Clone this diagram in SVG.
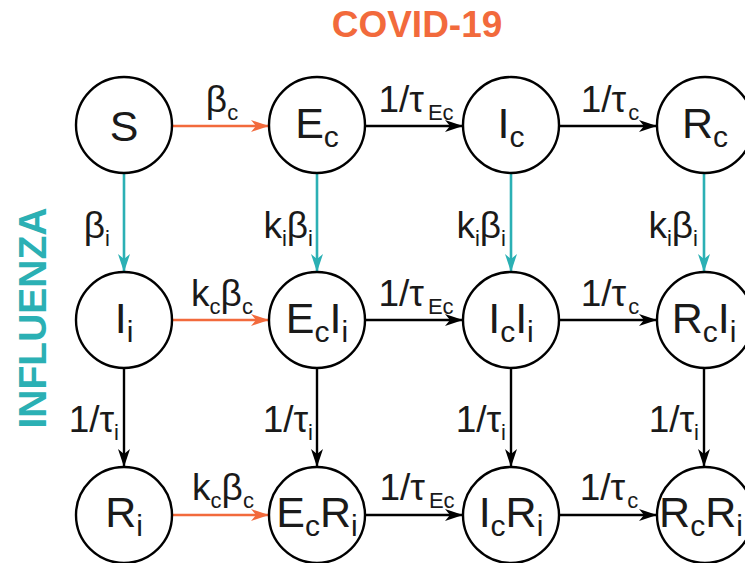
<svg xmlns="http://www.w3.org/2000/svg" width="745" height="563" viewBox="0 0 745 563">
<style>
.node circle{fill:#fff;stroke:#000;stroke-width:2.4}
.nl{font-family:"Liberation Sans",Arial,Helvetica,sans-serif;font-size:43px;text-anchor:middle;fill:#1a1a1a}
.ns{font-size:30px}
.el{font-family:"Liberation Sans",Arial,Helvetica,sans-serif;font-size:37px;fill:#1a1a1a}
.es{font-size:22px}
.m{text-anchor:middle}
.e{text-anchor:end}
.k{stroke:#000;stroke-width:2.4;fill:none;marker-end:url(#ak)}
.o{stroke:#f26a3c;stroke-width:2.6;fill:none;marker-end:url(#ao)}
.t{stroke:#2bb0b4;stroke-width:2.6;fill:none;marker-end:url(#at)}
.title{font-family:"Liberation Sans",Arial,Helvetica,sans-serif;font-weight:bold;text-anchor:middle}
</style>
<defs>
<marker id="ak" markerUnits="userSpaceOnUse" markerWidth="20" markerHeight="14" refX="18" refY="7" orient="auto" viewBox="0 0 20 14"><path d="M0,1 L18,7 L0,13 L5,7 Z" fill="#000"/></marker>
<marker id="ao" markerUnits="userSpaceOnUse" markerWidth="20" markerHeight="14" refX="18" refY="7" orient="auto" viewBox="0 0 20 14"><path d="M0,1 L18,7 L0,13 L5,7 Z" fill="#f26a3c"/></marker>
<marker id="at" markerUnits="userSpaceOnUse" markerWidth="20" markerHeight="14" refX="18" refY="7" orient="auto" viewBox="0 0 20 14"><path d="M0,1 L18,7 L0,13 L5,7 Z" fill="#2bb0b4"/></marker>
</defs>
<rect width="745" height="563" fill="#fff"/>
<text class="title" x="417" y="37" font-size="37" fill="#f26a3c">COVID-19</text>
<text class="title" transform="translate(46,318) rotate(-90)" font-size="39" fill="#2bb0b4">INFLUENZA</text>

<g id="connectors">
<line class="o" x1="172" y1="126" x2="269" y2="126"/>
<line class="k" x1="365" y1="126" x2="463" y2="126"/>
<line class="k" x1="559" y1="126" x2="657" y2="126"/>
<line class="o" x1="172" y1="320" x2="269" y2="320"/>
<line class="k" x1="365" y1="320" x2="463" y2="320"/>
<line class="k" x1="559" y1="320" x2="657" y2="320"/>
<line class="o" x1="172" y1="515" x2="269" y2="515"/>
<line class="k" x1="365" y1="515" x2="463" y2="515"/>
<line class="k" x1="559" y1="515" x2="657" y2="515"/>
<line class="t" x1="124" y1="173" x2="124" y2="272"/>
<line class="t" x1="317" y1="173" x2="317" y2="272"/>
<line class="t" x1="511" y1="173" x2="511" y2="272"/>
<line class="t" x1="704" y1="173" x2="704" y2="272"/>
<line class="k" x1="124" y1="368" x2="124" y2="467"/>
<line class="k" x1="317" y1="368" x2="317" y2="467"/>
<line class="k" x1="511" y1="368" x2="511" y2="467"/>
<line class="k" x1="704" y1="368" x2="704" y2="467"/>
<text class="el m" x="222" y="112">β<tspan class="es" dy="8">c</tspan></text>
<text class="el m" x="416" y="112">1/τ<tspan class="es" dy="8" dx="4">Ec</tspan></text>
<text class="el m" x="610" y="112">1/τ<tspan class="es" dy="8" dx="2">c</tspan></text>
<text class="el m" x="222" y="306">k<tspan class="es" dy="8">c</tspan><tspan dy="-8">β</tspan><tspan class="es" dy="8">c</tspan></text>
<text class="el m" x="416" y="306">1/τ<tspan class="es" dy="8" dx="4">Ec</tspan></text>
<text class="el m" x="610" y="306">1/τ<tspan class="es" dy="8" dx="2">c</tspan></text>
<text class="el m" x="223" y="500">k<tspan class="es" dy="8">c</tspan><tspan dy="-8">β</tspan><tspan class="es" dy="8">c</tspan></text>
<text class="el m" x="417" y="500">1/τ<tspan class="es" dy="8" dx="4">Ec</tspan></text>
<text class="el m" x="609" y="500">1/τ<tspan class="es" dy="8" dx="2">c</tspan></text>
<text class="el e" x="110" y="238">β<tspan class="es" dy="8">i</tspan></text>
<text class="el e" x="313" y="238">k<tspan class="es" dy="8">i</tspan><tspan dy="-8">β</tspan><tspan class="es" dy="8">i</tspan></text>
<text class="el e" x="506" y="238">k<tspan class="es" dy="8">i</tspan><tspan dy="-8">β</tspan><tspan class="es" dy="8">i</tspan></text>
<text class="el e" x="698" y="238">k<tspan class="es" dy="8">i</tspan><tspan dy="-8">β</tspan><tspan class="es" dy="8">i</tspan></text>
<text class="el e" x="119" y="432">1/τ<tspan class="es" dy="8">i</tspan></text>
<text class="el e" x="313" y="432">1/τ<tspan class="es" dy="8">i</tspan></text>
<text class="el e" x="506" y="432">1/τ<tspan class="es" dy="8">i</tspan></text>
<text class="el e" x="699" y="432">1/τ<tspan class="es" dy="8">i</tspan></text>
</g>

<g id="S" class="node"><circle cx="124" cy="125" r="48"/><text class="nl" x="124" y="141">S</text></g>
<g id="Ec" class="node"><circle cx="317" cy="125" r="48"/><text class="nl" x="317" y="138">E<tspan class="ns" dy="9">c</tspan></text></g>
<g id="Ic" class="node"><circle cx="511" cy="125" r="48"/><text class="nl" x="511" y="138">I<tspan class="ns" dy="9">c</tspan></text></g>
<g id="Rc" class="node"><circle cx="705" cy="125" r="48"/><text class="nl" x="705" y="138">R<tspan class="ns" dy="9">c</tspan></text></g>

<g id="Ii" class="node"><circle cx="124" cy="320" r="48"/><text class="nl" x="124" y="333">I<tspan class="ns" dy="9">i</tspan></text></g>
<g id="EcIi" class="node"><circle cx="317" cy="320" r="48"/><text class="nl" x="317" y="333">E<tspan class="ns" dy="9">c</tspan><tspan dy="-9">I</tspan><tspan class="ns" dy="9">i</tspan></text></g>
<g id="IcIi" class="node"><circle cx="511" cy="320" r="48"/><text class="nl" x="511" y="333">I<tspan class="ns" dy="9">c</tspan><tspan dy="-9">I</tspan><tspan class="ns" dy="9">i</tspan></text></g>
<g id="RcIi" class="node"><circle cx="705" cy="320" r="48"/><text class="nl" x="704" y="333">R<tspan class="ns" dy="9">c</tspan><tspan dy="-9">I</tspan><tspan class="ns" dy="9">i</tspan></text></g>

<g id="Ri" class="node"><circle cx="124" cy="515" r="48"/><text class="nl" x="124" y="527">R<tspan class="ns" dy="9">i</tspan></text></g>
<g id="EcRi" class="node"><circle cx="317" cy="515" r="48"/><text class="nl" x="317" y="527">E<tspan class="ns" dy="9">c</tspan><tspan dy="-9">R</tspan><tspan class="ns" dy="9">i</tspan></text></g>
<g id="IcRi" class="node"><circle cx="511" cy="515" r="48"/><text class="nl" x="511" y="527">I<tspan class="ns" dy="9">c</tspan><tspan dy="-9">R</tspan><tspan class="ns" dy="9">i</tspan></text></g>
<g id="RcRi" class="node"><circle cx="705" cy="515" r="48"/><text class="nl" x="701" y="527">R<tspan class="ns" dy="9">c</tspan><tspan dy="-9">R</tspan><tspan class="ns" dy="9">i</tspan></text></g>
</svg>
